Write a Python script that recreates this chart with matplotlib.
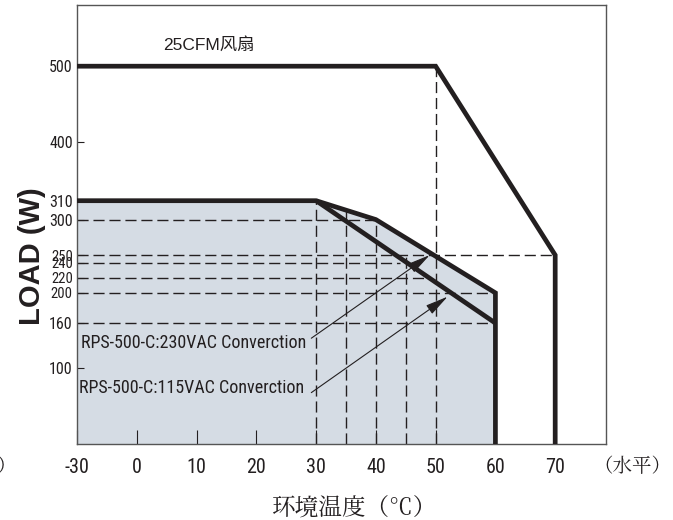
import numpy as np
import matplotlib.pyplot as plt

# derating curves: ambient temperature (C) vs load (W)
FAN_TEMP = [-30, 50, 70, 70]
FAN_LOAD = [500, 500, 250, 0]
AC230_TEMP = [-30, 30, 40, 60, 60]
AC230_LOAD = [310, 310, 300, 200, 0]
AC115_TEMP = [30, 60]
AC115_LOAD = [310, 160]

# dashed guide lines (level, where it stops)
H_LEVELS = [300, 250, 240, 220, 200, 160]
H_ENDS = [40, 70, 44, 48, 60, 60]
V_TEMPS = [30, 35, 40, 45, 50]
V_TOPS = [310, 305, 300, 250, 500]

X_TICKS = [-30, 0, 10, 20, 30, 40, 50, 60, 70]
Y_TICKS = [100, 160, 200, 220, 240, 250, 300, 310, 400, 500]
SMALL_Y = [200, 220, 240, 250]

# the chart squeezes -30..0 and stretches 300..310
X_KNOTS, X_POS = [-30, 0, 100], [-10, 0, 100]
Y_KNOTS, Y_POS = [0, 250, 300, 310, 400, 600], [0, 250, 297, 322, 400, 600]

LABEL_230 = "RPS-500-C:230VAC Converction"
LABEL_115 = "RPS-500-C:115VAC Converction"
TEXT_230 = (28.3, 134)
TEXT_115 = (28.0, 74)
START_230 = (29.2, 140)
START_115 = (29.2, 68)
TIP_230 = (49, 250)
TIP_115 = (52, 195)

INK = '#231f20'
FILL = '#d5dce4'
NARROW = ['Roboto Condensed', 'DejaVu Sans']
SERIF_CJK = ['Noto Serif CJK JP', 'Noto Sans CJK SC']

fig = plt.figure(figsize=(6.73, 5.2), dpi=100)
ax = fig.add_axes([77 / 673, 1 - 444 / 520, 529 / 673, 439 / 520])

ax.set_xscale('function', functions=(lambda v: np.interp(v, X_KNOTS, X_POS),
                                     lambda p: np.interp(p, X_POS, X_KNOTS)))
ax.set_yscale('function', functions=(lambda v: np.interp(v, Y_KNOTS, Y_POS),
                                     lambda p: np.interp(p, Y_POS, Y_KNOTS)))

ax.fill_between(AC230_TEMP, AC230_LOAD, 0, color=FILL, lw=0, zorder=1)

dash = (0, (8, 3.5))
for lev, end in zip(H_LEVELS, H_ENDS):
    ax.plot([-30, end], [lev, lev], color=INK, lw=1.0, ls=dash, zorder=2)
for t, top in zip(V_TEMPS, V_TOPS):
    ax.plot([t, t], [0, top], color=INK, lw=1.0, ls=dash, zorder=2)

for xs, ys in [(FAN_TEMP, FAN_LOAD), (AC230_TEMP, AC230_LOAD), (AC115_TEMP, AC115_LOAD)]:
    ax.plot(xs, ys, color=INK, lw=3.4, solid_joinstyle='miter',
            solid_capstyle='butt', zorder=3)

for txt, tpos, start, tip in [(LABEL_230, TEXT_230, START_230, TIP_230),
                              (LABEL_115, TEXT_115, START_115, TIP_115)]:
    ax.text(*tpos, txt, ha='right', va='center', fontsize=13,
            family=NARROW, color=INK, zorder=4)
    ax.annotate('', xy=tip, xytext=start, zorder=4,
                arrowprops=dict(arrowstyle='-|>,head_length=0.7,head_width=0.16',
                                mutation_scale=20, lw=0.8, color=INK,
                                shrinkA=0, shrinkB=0))

ax.text(12, 528, '25CFM风扇', ha='center', va='center', fontsize=12.5,
        family=['Liberation Sans', 'Noto Sans CJK SC'], color=INK)

ax.set_xlim(-30, 78.5)
ax.set_ylim(0, 581)
ax.set_xticks(X_TICKS)
ax.set_xticklabels([str(v) for v in X_TICKS])
ax.set_yticks(Y_TICKS)
ax.set_yticklabels([str(v) for v in Y_TICKS])
ax.minorticks_off()

ax.tick_params(axis='y', direction='in', length=5, width=0.8, pad=3,
               labelsize=11.5, colors=INK)
ax.tick_params(axis='x', direction='in', length=10, width=0.8, pad=10,
               labelsize=14.5, colors=INK)
for lbl in ax.get_xticklabels() + ax.get_yticklabels():
    lbl.set_family(NARROW)
for v, lbl in zip(Y_TICKS, ax.get_yticklabels()):
    if v in SMALL_Y:
        lbl.set_fontsize(10.5)

for sp in ax.spines.values():
    sp.set_color('#555555')
    sp.set_linewidth(1.0)

ax.set_ylabel('LOAD (W)', fontsize=21, fontweight='bold',
              family='Liberation Sans', color=INK, va='center')
ax.yaxis.set_label_coords(-0.085, 0.428)
ax.set_xlabel('环境温度（℃）', fontsize=17, family=SERIF_CJK,
              color=INK, va='center')
ax.xaxis.set_label_coords(0.524, -0.145)

ax.text(1.05, -0.053, '（水平）', transform=ax.transAxes, ha='center',
        va='center', fontsize=14, family=SERIF_CJK, color=INK)
ax.text(-0.152, -0.053, '）', transform=ax.transAxes, ha='left',
        va='center', fontsize=14, family=SERIF_CJK, color=INK)

fig.savefig('out.png', dpi=100)
